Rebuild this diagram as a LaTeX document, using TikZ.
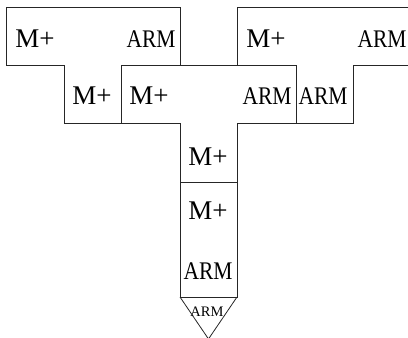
\documentclass[tikz,border=0pt]{standalone}
\usepackage{fontspec}
\setmainfont{Liberation Serif}
\newcommand{\tallarm}[1]{\scalebox{1}[1.18]{#1}}
\begin{document}
\begin{tikzpicture}[x=1pt,y=-1pt,
  outline/.style={draw=black!85,line width=0.8pt,line join=miter},
  mlabel/.style={inner sep=0pt,font=\fontsize{27}{27}\selectfont},
  alabel/.style={inner sep=0pt,font=\fontsize{21.5}{21.5}\selectfont},
  tiplabel/.style={inner sep=0pt,font=\fontsize{14.5}{14.5}\selectfont}]
\useasboundingbox (0,0) rectangle (408,338);
\clip (0,0) rectangle (408,338);

% upper left T-piece
\draw[outline] (6,7) -- (180,7) -- (180,65) -- (121,65) -- (121,123)
  -- (64,123) -- (64,65) -- (6,65) -- cycle;
% central T-piece with its long stem
\draw[outline] (121,65) -- (296,65) -- (296,123) -- (237,123) -- (237,297)
  -- (180,297) -- (180,123) -- (121,123) -- cycle;
% upper right T-piece
\draw[outline] (237,7) -- (410,7) -- (410,65) -- (353,65) -- (353,123)
  -- (296,123) -- (296,65) -- (237,65) -- cycle;
% divider in the stem
\coordinate (dl) at (180,182);
\coordinate (dr) at (237,182);
\draw[outline] (dl) -- (dr);
% pointed tip below the stem
\coordinate (tl) at (180,297);
\coordinate (tr) at (237,297);
\coordinate (tp) at (208.5,339);
\draw[outline] (tl) -- (tp) -- (tr);

% labels
\node[mlabel] (m1) at (35,39) {M+};
\node[alabel] (a1) at (151,39) {\tallarm{ARM}};
\node[mlabel] (m2) at (92,96) {M+};
\node[mlabel] (m3) at (149,96) {M+};
\node[alabel] (a2) at (267,96) {\tallarm{ARM}};
\node[alabel] (a3) at (323,96) {\tallarm{ARM}};
\node[mlabel] (m4) at (266,39) {M+};
\node[alabel] (a4) at (382,39) {\tallarm{ARM}};
\node[mlabel] (m5) at (208,157) {M+};
\node[mlabel] (m6) at (208,211) {M+};
\node[alabel] (a5) at (208,271) {\tallarm{ARM}};
\node[tiplabel] (a6) at (207,312) {ARM};
\end{tikzpicture}
\end{document}
